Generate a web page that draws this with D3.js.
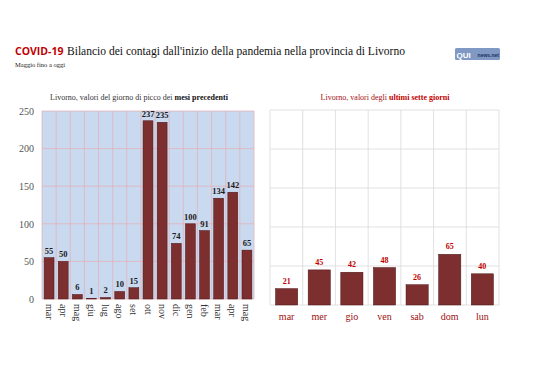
<!DOCTYPE html>
<html><head><meta charset="utf-8">
<script src="https://cdn.jsdelivr.net/npm/d3@7"></script>
<style>body{margin:0;background:#fff}svg{display:block}</style>
</head><body>
<svg id="c" width="538" height="380"></svg>
<script>
const monthLabels = ["mar","apr","mag","giu","lug","ago","set","ott","nov","dic","gen","feb","mar","apr","mag"];
const monthValues = [55,50,6,1,2,10,15,237,235,74,100,91,134,142,65];
const dayLabels = ["mar","mer","gio","ven","sab","dom","lun"];
const dayValues = [21,45,42,48,26,65,40];
const yTicks = [0,50,100,150,200,250];

const svg = d3.select("#c");
const serif = '"Liberation Serif","Times New Roman",serif';
const sans = '"Open Sans","Liberation Sans",sans-serif';
const barFill = "#7d2f2f", barStroke = "#4a1414";

// Title
svg.append("text").attr("x",15).attr("y",55).style("font-family",sans).style("font-weight","bold")
  .style("font-size","10.5px").attr("fill","#c00000").text("COVID-19");
svg.append("text").attr("x",67).attr("y",55).style("font-family",serif).style("font-size","12.5px").attr("fill","#111")
  .attr("textLength",338).attr("lengthAdjust","spacingAndGlyphs")
  .text("Bilancio dei contagi dall'inizio della pandemia nella provincia di Livorno");
svg.append("text").attr("x",15).attr("y",67).style("font-size","6.5px").style("font-family",serif).attr("fill","#222").text("Maggio fino a oggi");

// logo
const lg = svg.append("g").attr("transform","translate(455,48)");
lg.append("rect").attr("width",45).attr("height",12).attr("fill","#7f98c4").attr("rx",1.5);
lg.append("text").attr("x",1.5).attr("y",10).style("font-family",'"Liberation Sans",sans-serif')
  .style("font-weight","bold").style("font-size","8px").attr("fill","#fff").text("QUI");
lg.append("text").attr("x",44).attr("y",9).attr("text-anchor","end").style("font-family",'"Liberation Sans",sans-serif')
  .style("font-weight","bold").style("font-size","5px").attr("fill","#1c2f60").text("news.net");

// Left chart
const L = {x0:42,x1:254,y0:111,y1:299};
const xL = d3.scaleBand().domain(monthLabels.map((d,i)=>i)).range([L.x0,L.x1]).paddingInner(0.3).paddingOuter(0.15);
const xLg = d3.scaleBand().domain(monthLabels.map((d,i)=>i)).range([L.x0,L.x1]);
const yL = d3.scaleLinear().domain([0,250]).range([L.y1,L.y0]);
const gL = svg.append("g");
gL.append("rect").attr("x",L.x0).attr("y",L.y0).attr("width",L.x1-L.x0).attr("height",L.y1-L.y0).attr("fill","#c9d9f0");
gL.selectAll("line.v").data(d3.range(monthLabels.length+1)).join("line")
  .attr("x1",i=>L.x0+i*xLg.bandwidth()).attr("x2",i=>L.x0+i*xLg.bandwidth())
  .attr("y1",L.y0).attr("y2",L.y1).attr("stroke","#e2b4b8").attr("stroke-width",0.8);
gL.selectAll("line.h").data(yTicks).join("line")
  .attr("x1",L.x0).attr("x2",L.x1).attr("y1",d=>yL(d)).attr("y2",d=>yL(d))
  .attr("stroke","#e2b4b8").attr("stroke-width",0.8);
const axL = gL.append("g").attr("transform",`translate(${L.x0-8},0)`)
  .call(d3.axisLeft(yL).tickValues(yTicks).tickSize(0).tickPadding(0));
axL.attr("font-family",null);
axL.select(".domain").remove();
axL.selectAll("text").style("font-family",serif).style("font-size","10px").attr("fill","#555");
gL.selectAll("rect.bar").data(monthValues).join("rect")
  .attr("x",(d,i)=>xL(i)).attr("width",xL.bandwidth())
  .attr("y",d=>yL(d)).attr("height",d=>yL(0)-yL(d))
  .attr("fill",barFill).attr("stroke",barStroke).attr("stroke-width",0.5);
gL.selectAll("text.val").data(monthValues).join("text")
  .attr("x",(d,i)=>xL(i)+xL.bandwidth()/2).attr("y",d=>yL(d)-4)
  .attr("text-anchor","middle").style("font-family",serif).style("font-weight","bold")
  .style("font-size","8.5px").attr("fill","#1a1a1a").text(d=>d);
gL.selectAll("text.xl").data(monthLabels).join("text")
  .attr("transform",(d,i)=>`translate(${xL(i)+xL.bandwidth()/2-3.5},${L.y1+5}) rotate(90)`)
  .style("font-family",serif).style("font-size","10px").attr("fill","#333").text(d=>d);
const tl = svg.append("text").attr("x",139).attr("y",100).attr("text-anchor","middle")
  .style("font-family",serif).style("font-size","8px").attr("fill","#333");
tl.append("tspan").text("Livorno, valori del giorno di picco dei ");
tl.append("tspan").style("font-weight","bold").attr("fill","#111").text("mesi precedenti");

// Right chart
const R = {x0:270,x1:499,y0:110,y1:305};
const xR = d3.scaleBand().domain(dayLabels.map((d,i)=>i)).range([R.x0,R.x1]).paddingInner(0.32).paddingOuter(0.17);
const xRg = d3.scaleBand().domain(dayLabels.map((d,i)=>i)).range([R.x0,R.x1]);
const yR = d3.scaleLinear().domain([0,250]).range([R.y1,R.y0]);
const gR = svg.append("g");
gR.selectAll("line.v").data(d3.range(dayLabels.length+1)).join("line")
  .attr("x1",i=>R.x0+i*xRg.bandwidth()).attr("x2",i=>R.x0+i*xRg.bandwidth())
  .attr("y1",R.y0).attr("y2",R.y1).attr("stroke","#d9d9d9").attr("stroke-width",0.8);
gR.selectAll("line.h").data(yTicks).join("line")
  .attr("x1",R.x0).attr("x2",R.x1).attr("y1",d=>yR(d)).attr("y2",d=>yR(d))
  .attr("stroke","#d9d9d9").attr("stroke-width",0.8);
gR.selectAll("rect.bar").data(dayValues).join("rect")
  .attr("x",(d,i)=>xR(i)).attr("width",xR.bandwidth())
  .attr("y",d=>yR(d)).attr("height",d=>yR(0)-yR(d))
  .attr("fill",barFill).attr("stroke",barStroke).attr("stroke-width",0.5);
gR.selectAll("text.val").data(dayValues).join("text")
  .attr("x",(d,i)=>xR(i)+xR.bandwidth()/2).attr("y",d=>yR(d)-5)
  .attr("text-anchor","middle").style("font-family",serif).style("font-weight","bold")
  .style("font-size","8px").attr("fill","#c00000").text(d=>d);
gR.selectAll("text.xl").data(dayLabels).join("text")
  .attr("x",(d,i)=>xR(i)+xR.bandwidth()/2).attr("y",R.y1+15)
  .attr("text-anchor","middle").style("font-family",serif).style("font-size","10px").attr("fill","#9b1010").text(d=>d);
const tr = svg.append("text").attr("x",385).attr("y",100).attr("text-anchor","middle")
  .style("font-family",serif).style("font-size","8px").attr("fill","#a01010");
tr.append("tspan").text("Livorno, valori degli ");
tr.append("tspan").style("font-weight","bold").attr("fill","#c00000").text("ultimi sette giorni");
</script>
</body></html>
